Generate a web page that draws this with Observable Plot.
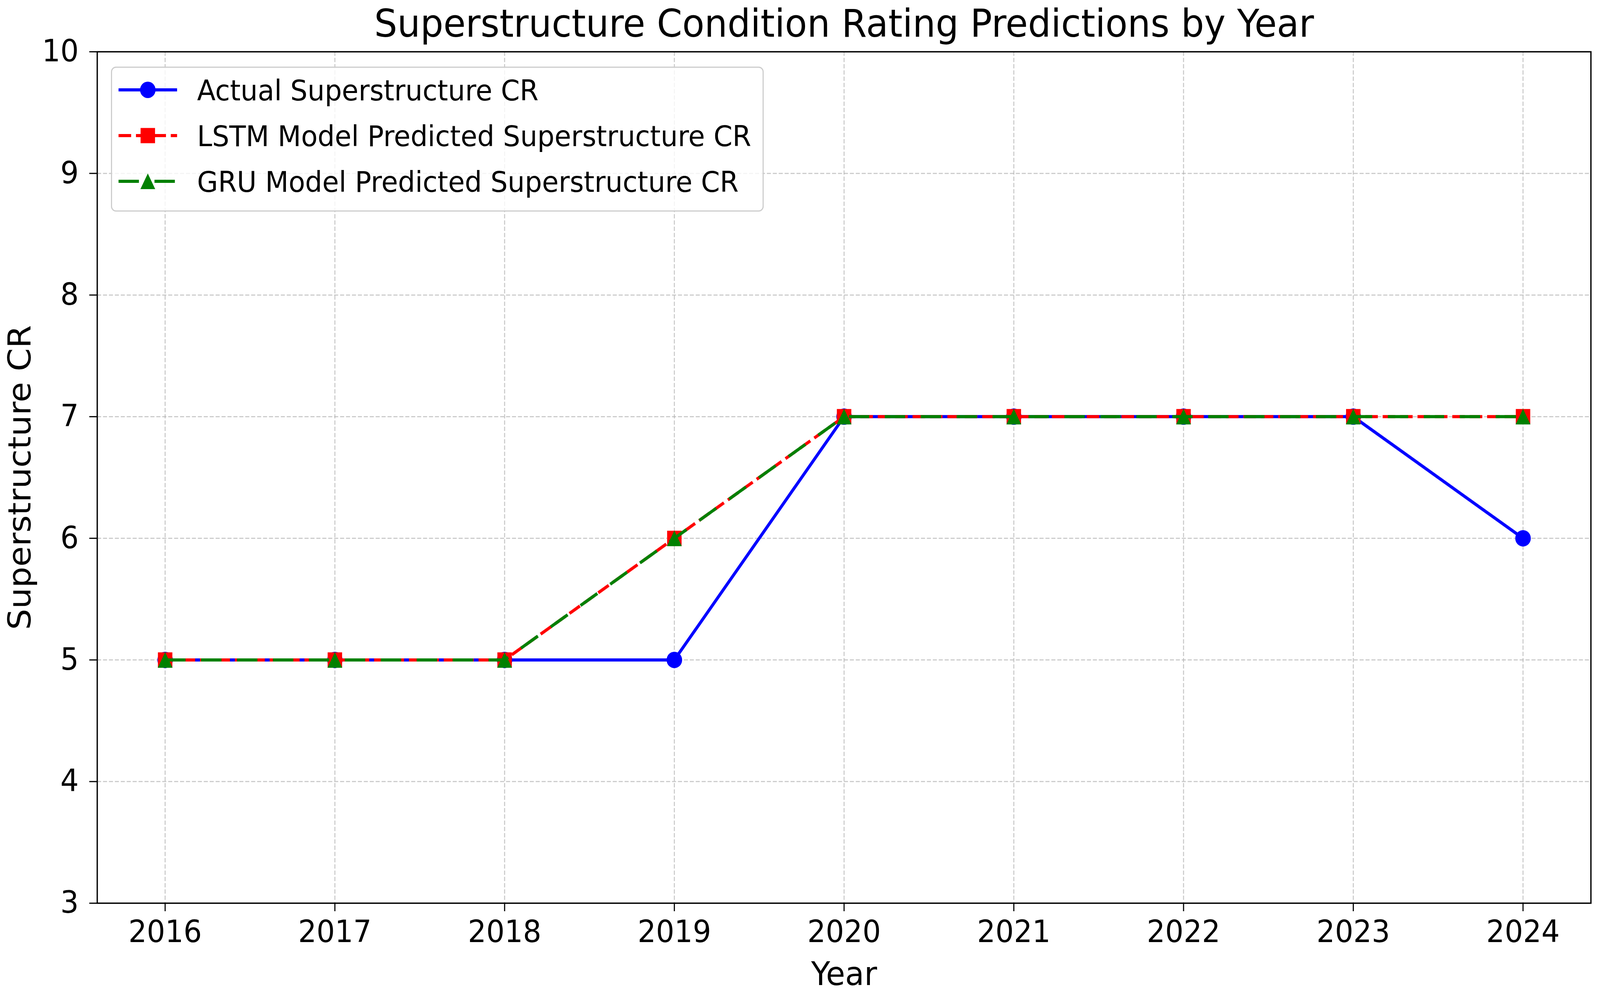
<!DOCTYPE html>
<html>
<head>
<meta charset="utf-8">
<script src="https://cdn.jsdelivr.net/npm/d3@7"></script>
<script src="https://cdn.jsdelivr.net/npm/@observablehq/plot@0.6"></script>
<style>
  html, body { margin: 0; padding: 0; background: #fff; overflow: hidden; }
  #chart { width: 100vw; height: 100vh; }
  #chart svg { display: block; width: 100vw; height: 100vh; max-width: none; }
</style>
</head>
<body>
<div id="chart"></div>
<script>
// ---- data ----
const years = [2016, 2017, 2018, 2019, 2020, 2021, 2022, 2023, 2024];
const actualCR = [5, 5, 5, 5, 7, 7, 7, 7, 6];
const lstmCR = [5, 5, 5, 6, 7, 7, 7, 7, 7];
const gruCR = [5, 5, 5, 6, 7, 7, 7, 7, 7];
const yTicks = [3, 4, 5, 6, 7, 8, 9, 10];
const seriesNames = [
  "Actual Superstructure CR",
  "LSTM Model Predicted Superstructure CR",
  "GRU Model Predicted Superstructure CR"
];
const titleText = "Superstructure Condition Rating Predictions by Year";
const xLabel = "Year";
const yLabel = "Superstructure CR";

const actual = years.map((y, i) => ({year: y, v: actualCR[i]}));
const lstm = years.map((y, i) => ({year: y, v: lstmCR[i]}));
const gru = years.map((y, i) => ({year: y, v: gruCR[i]}));

// ---- styles ----
const FONT = "DejaVu Sans";
const BLUE = "#0000ff", RED = "#ff0000", GREEN = "#008000";
const LW = 8;
const redDash = "34,13";
const greenDash = "55,42";

const sq = {draw(ctx, size) { const r = Math.sqrt(size / Math.PI); ctx.rect(-r, -r, 2 * r, 2 * r); }};
const tri = {draw(ctx, size) { const r = Math.sqrt(size / Math.PI); ctx.moveTo(0, -r); ctx.lineTo(r, r); ctx.lineTo(-r, r); ctx.closePath(); }};

const W = 4319, H = 2549;
const mL = 262, mR = 25, mT = 132, mB = 238;

const plot = Plot.plot({
  width: W,
  height: H,
  marginLeft: mL,
  marginRight: mR,
  marginTop: mT,
  marginBottom: mB,
  style: {fontFamily: FONT, background: "white"},
  x: {domain: [2015.6, 2024.4], label: null},
  y: {domain: [3, 10], label: null},
  marks: [
    Plot.gridX(years, {stroke: "#b0b0b0", strokeOpacity: 0.7, strokeWidth: 2.7, strokeDasharray: "11,5"}),
    Plot.gridY(yTicks, {stroke: "#b0b0b0", strokeOpacity: 0.7, strokeWidth: 2.7, strokeDasharray: "11,5"}),
    Plot.axisX(years, {tickFormat: d => String(d), tickSize: 21, tickPadding: 23, fontSize: 78, strokeWidth: 3, label: null, fill: "black"}),
    Plot.axisY(yTicks, {tickFormat: d => String(d), tickSize: 21, tickPadding: 29, fontSize: 78, strokeWidth: 3, label: null, fill: "black"}),
    Plot.line(actual, {x: "year", y: "v", stroke: BLUE, strokeWidth: LW, strokeLinejoin: "round"}),
    Plot.dot(actual, {x: "year", y: "v", r: 21, fill: BLUE, symbol: "circle"}),
    Plot.line(lstm, {x: "year", y: "v", stroke: RED, strokeWidth: LW, strokeDasharray: redDash, strokeLinecap: "butt"}),
    Plot.dot(lstm, {x: "year", y: "v", r: 19.5, fill: RED, symbol: sq}),
    Plot.line(gru, {x: "year", y: "v", stroke: GREEN, strokeWidth: LW, strokeDasharray: greenDash, strokeLinecap: "butt"}),
    Plot.dot(gru, {x: "year", y: "v", r: 20, fill: GREEN, symbol: tri}),
    Plot.frame({stroke: "black", strokeWidth: 3.5}),
    Plot.text([titleText], {frameAnchor: "top", text: d => d, textAnchor: "middle", lineAnchor: "bottom", dy: -39, fontSize: 98, fill: "black"}),
    Plot.text([xLabel], {frameAnchor: "bottom", text: d => d, textAnchor: "middle", lineAnchor: "bottom", dy: 209, fontSize: 84, fill: "black"}),
    Plot.text([yLabel], {frameAnchor: "left", text: d => d, textAnchor: "middle", lineAnchor: "bottom", rotate: -90, dx: 82 - mL, fontSize: 85, fill: "black"})
  ]
});

plot.setAttribute("preserveAspectRatio", "none");
document.getElementById("chart").appendChild(plot);

// ---- legend (inside the axes, upper left) ----
const svg = d3.select(plot);
const lg = svg.append("g").attr("font-family", FONT).attr("text-anchor", "start");
lg.append("rect")
  .attr("x", 301).attr("y", 172).attr("width", 1759).attr("height", 368)
  .attr("rx", 12).attr("fill", "white").attr("fill-opacity", 0.8)
  .attr("stroke", "#cccccc").attr("stroke-width", 3);
const rows = [
  {name: seriesNames[0], color: BLUE, dash: null, sym: d3.symbol().type(d3.symbolCircle).size(Math.PI * 21 * 21)},
  {name: seriesNames[1], color: RED, dash: redDash, sym: d3.symbol().type(sq).size(Math.PI * 19.5 * 19.5)},
  {name: seriesNames[2], color: GREEN, dash: greenDash, sym: d3.symbol().type(tri).size(Math.PI * 20 * 20)}
];
const rowY = [230, 347, 464];
rows.forEach((r, i) => {
  const y = rowY[i];
  const l = lg.append("line").attr("x1", 320).attr("x2", 478).attr("y1", y).attr("y2", y)
    .attr("stroke", r.color).attr("stroke-width", LW);
  if (r.dash) l.attr("stroke-dasharray", r.dash);
  lg.append("path").attr("d", r.sym()).attr("transform", `translate(399,${y})`).attr("fill", r.color);
  lg.append("text").attr("x", 532).attr("y", y + 27).attr("font-size", 73).attr("fill", "black").text(r.name);
});
</script>
</body>
</html>
